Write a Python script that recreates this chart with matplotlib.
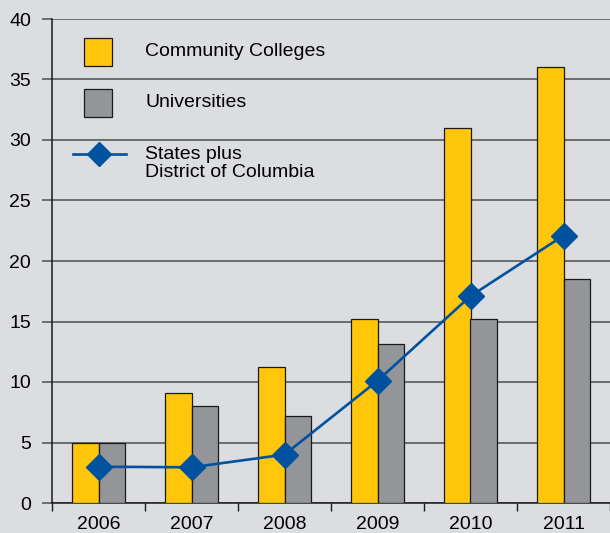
import matplotlib.pyplot as plt
import numpy as np
from matplotlib.patches import Rectangle
from matplotlib.lines import Line2D

plt.rcParams['font.family'] = ['Liberation Sans', 'DejaVu Sans']

# data
years = ['2006', '2007', '2008', '2009', '2010', '2011']
community_colleges = [5, 9.1, 11.2, 15.2, 31, 36]
universities = [5, 8, 7.2, 13.1, 15.2, 18.5]
states_dc = [3, 2.95, 4, 10.1, 17.1, 22.1]

yellow = '#ffc60b'
grey = '#949599'
blue = '#00529f'
bg = '#dcdde0'

fig = plt.figure(figsize=(6.1, 5.33), dpi=100, facecolor=bg)
ax = fig.add_axes([52/610, 30/533, 558/610, 484/533])
ax.set_facecolor(bg)

x = np.arange(len(years))
w = 0.29
ax.bar(x - w/2, community_colleges, w, color=yellow, edgecolor='#1a1a1a', linewidth=0.9, zorder=3)
ax.bar(x + w/2, universities, w, color=grey, edgecolor='#1a1a1a', linewidth=0.9, zorder=3)
ax.plot(x, states_dc, color=blue, linewidth=1.9, marker='D', markersize=13,
        markerfacecolor=blue, markeredgecolor=blue, zorder=4)

ax.set_xlim(-0.5, 5.5)
ax.set_ylim(0, 40)
ax.set_yticks(range(0, 41, 5))
ax.yaxis.grid(True, color='#58595b', linewidth=1.2, zorder=0)
ax.tick_params(axis='y', length=7, width=1.2, color='#58595b', pad=8, labelsize=14)

# category boundaries as major ticks, year labels on minor ticks
ax.set_xticks(np.arange(-0.5, 6, 1))
ax.set_xticklabels([])
ax.set_xticks(x, minor=True)
ax.set_xticklabels(years, minor=True, fontsize=14)
ax.tick_params(axis='x', which='major', length=6, width=1, color='#1a1a1a')
ax.tick_params(axis='x', which='minor', length=0, pad=9.5)

for s in ['top', 'right']:
    ax.spines[s].set_visible(False)
ax.spines['left'].set_color('#1a1a1a')
ax.spines['bottom'].set_color('#1a1a1a')
ax.spines['left'].set_linewidth(1.1)
ax.spines['bottom'].set_linewidth(1.1)

# legend drawn by hand
t = ax.transAxes
ax.add_patch(Rectangle((0.0573, 0.903), 0.0502, 0.0579, transform=t,
                       facecolor=yellow, edgecolor='#1a1a1a', linewidth=0.9, zorder=5))
ax.add_patch(Rectangle((0.0573, 0.7975), 0.0502, 0.0579, transform=t,
                       facecolor=grey, edgecolor='#1a1a1a', linewidth=0.9, zorder=5))
ax.add_line(Line2D([0.0376, 0.1326], [0.721, 0.721], transform=t, color=blue, linewidth=1.9, zorder=5))
ax.add_line(Line2D([0.0842], [0.721], transform=t, color=blue, marker='D', markersize=12, zorder=6))
ax.text(0.1667, 0.932, 'Community Colleges', transform=t, fontsize=14, va='center', ha='left')
ax.text(0.1667, 0.8285, 'Universities', transform=t, fontsize=14, va='center', ha='left')
ax.text(0.1667, 0.7014, 'States plus\nDistrict of Columbia', transform=t, fontsize=14,
        va='center', ha='left', linespacing=1.1)

plt.savefig('out.png', dpi=100, facecolor=bg)
